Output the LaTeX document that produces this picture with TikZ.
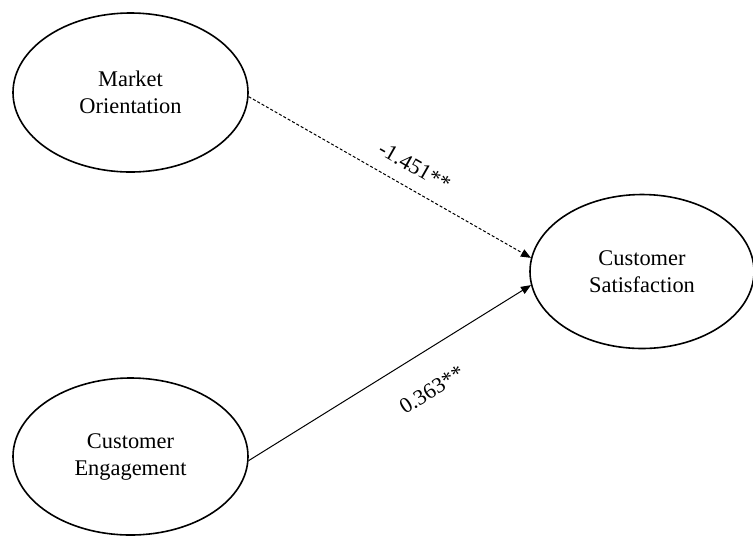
\documentclass[tikz,border=0pt]{standalone}
\usepackage{fontspec}
\setmainfont{Liberation Serif}
\usetikzlibrary{arrows.meta,shapes.geometric,positioning}

\begin{document}
\begin{tikzpicture}[x=0.5pt,y=-0.5pt,
  latent/.style={ellipse,draw,line width=0.8pt,inner sep=0pt,
    align=center,font=\fontsize{11.2}{13.5}\selectfont},
  coef/.style={font=\fontsize{11}{13}\selectfont,sloped}]
\useasboundingbox (0,0) rectangle (753,537);
\node[latent,minimum width=117.5pt,minimum height=79.5pt] (M) at (130.5,92.5) {Market\\Orientation};
\node[latent,minimum width=112pt,minimum height=77pt] (S) at (642,271.5) {Customer\\Satisfaction};
\node[latent,minimum width=117.5pt,minimum height=78.5pt] (E) at (130.5,456.5) {Customer\\Engagement};
\path[-{Triangle[length=5pt,width=4pt]},line width=0.5pt]
(M.-2) edge[dash pattern=on 1.5pt off 1pt] node[coef,pos=0.55,above=3.5pt]{-1.451**} (S.173)
(E.-2) edge node[coef,pos=0.58,below=11pt]{0.363**} (S.187);
\end{tikzpicture}
\end{document}
